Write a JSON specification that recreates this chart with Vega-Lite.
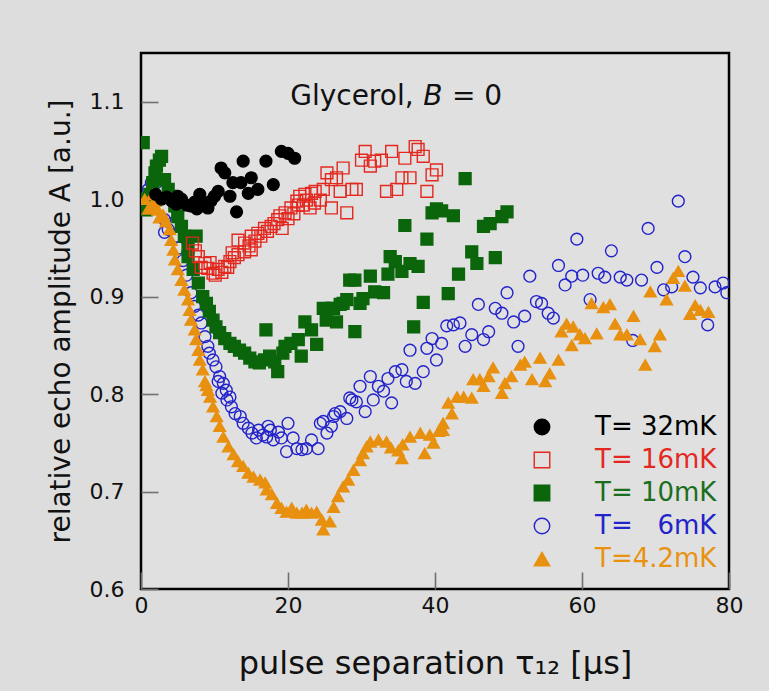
{
  "$schema": "https://vega.github.io/schema/vega-lite/v6.json",
  "width": 588,
  "height": 536,
  "autosize": {"type": "none"},
  "padding": {"left": 141, "top": 53, "right": 40, "bottom": 102},
  "background": "#dddddd",
  "config": {
    "font": "DejaVu Sans",
    "view": {"stroke": "#000000", "strokeWidth": 2.5, "fill": "#e0e0e0"},
    "axis": {"grid": false, "domain": false, "tickSize": -17, "tickColor": "#707070", "tickWidth": 1.6, "labelFont": "DejaVu Sans", "labelFontSize": 22, "labelColor": "#111111", "labelFlush": false, "titleFont": "DejaVu Sans", "titleFontWeight": "normal", "titleColor": "#111111"},
    "legend": {"padding": 0, "title": null, "orient": "none", "legendX": 388, "legendY": 361, "labelFont": "DejaVu Sans", "labelFontSize": 26, "labelOffset": 40, "rowPadding": 7, "symbolStrokeWidth": 1.4, "symbolSize": 240}
  },
  "layer": [
    {
      "data": {"values": [
        {"T":"6","x":0.5,"y":0.999},{"T":"6","x":1.0,"y":1.01},{"T":"6","x":1.4,"y":1.017},{"T":"6","x":1.8,"y":1.02},{"T":"6","x":2.1,"y":1.017},{"T":"6","x":2.5,"y":1.01},{"T":"6","x":2.3,"y":1.0},{"T":"6","x":3.2,"y":0.979},{"T":"6","x":3.2,"y":0.966},{"T":"6","x":3.7,"y":0.969},{"T":"6","x":4.2,"y":0.975},{"T":"6","x":4.7,"y":0.962},{"T":"6","x":5.2,"y":0.95},{"T":"6","x":5.7,"y":0.937},{"T":"6","x":6.2,"y":0.922},{"T":"6","x":6.8,"y":0.904},{"T":"6","x":7.3,"y":0.89},{"T":"6","x":7.8,"y":0.881},{"T":"6","x":8.2,"y":0.873},{"T":"6","x":8.7,"y":0.859},{"T":"6","x":9.1,"y":0.849},{"T":"6","x":9.3,"y":0.842},{"T":"6","x":9.8,"y":0.835},{"T":"6","x":10.2,"y":0.828},{"T":"6","x":10.5,"y":0.813},{"T":"6","x":10.7,"y":0.818},{"T":"6","x":11.0,"y":0.801},{"T":"6","x":11.2,"y":0.811},{"T":"6","x":11.6,"y":0.804},{"T":"6","x":11.7,"y":0.794},{"T":"6","x":12.1,"y":0.797},{"T":"6","x":12.3,"y":0.787},{"T":"6","x":12.8,"y":0.78},{"T":"6","x":13.5,"y":0.777},{"T":"6","x":13.9,"y":0.77},{"T":"6","x":14.6,"y":0.765},{"T":"6","x":15.1,"y":0.76},{"T":"6","x":15.7,"y":0.755},{"T":"6","x":16.0,"y":0.763},{"T":"6","x":16.6,"y":0.758},{"T":"6","x":17.1,"y":0.756},{"T":"6","x":17.3,"y":0.767},{"T":"6","x":17.6,"y":0.763},{"T":"6","x":18.0,"y":0.753},{"T":"6","x":18.7,"y":0.761},{"T":"6","x":19.1,"y":0.755},{"T":"6","x":19.8,"y":0.741},{"T":"6","x":20.0,"y":0.77},{"T":"6","x":20.7,"y":0.755},{"T":"6","x":21.2,"y":0.744},{"T":"6","x":21.9,"y":0.743},{"T":"6","x":22.5,"y":0.744},{"T":"6","x":23.2,"y":0.753},{"T":"6","x":24.1,"y":0.744},{"T":"6","x":24.4,"y":0.77},{"T":"6","x":24.8,"y":0.772},{"T":"6","x":25.3,"y":0.76},{"T":"6","x":25.9,"y":0.767},{"T":"6","x":26.2,"y":0.777},{"T":"6","x":26.4,"y":0.78},{"T":"6","x":27.1,"y":0.782},{"T":"6","x":28.0,"y":0.775},{"T":"6","x":28.4,"y":0.796},{"T":"6","x":28.7,"y":0.794},{"T":"6","x":29.3,"y":0.792},{"T":"6","x":29.8,"y":0.808},{"T":"6","x":30.5,"y":0.782},{"T":"6","x":31.2,"y":0.818},{"T":"6","x":31.6,"y":0.794},{"T":"6","x":32.3,"y":0.808},{"T":"6","x":33.0,"y":0.803},{"T":"6","x":33.6,"y":0.816},{"T":"6","x":34.1,"y":0.791},{"T":"6","x":34.6,"y":0.823},{"T":"6","x":35.5,"y":0.825},{"T":"6","x":36.1,"y":0.813},{"T":"6","x":36.6,"y":0.845},{"T":"6","x":37.3,"y":0.811},{"T":"6","x":38.4,"y":0.823},{"T":"6","x":38.9,"y":0.847},{"T":"6","x":39.6,"y":0.857},{"T":"6","x":40.2,"y":0.835},{"T":"6","x":40.9,"y":0.852},{"T":"6","x":41.6,"y":0.87},{"T":"6","x":42.5,"y":0.871},{"T":"6","x":43.4,"y":0.873},{"T":"6","x":44.1,"y":0.849},{"T":"6","x":45.0,"y":0.861},{"T":"6","x":45.9,"y":0.892},{"T":"6","x":46.6,"y":0.856},{"T":"6","x":47.3,"y":0.864},{"T":"6","x":48.2,"y":0.888},{"T":"6","x":49.1,"y":0.883},{"T":"6","x":49.8,"y":0.904},{"T":"6","x":50.7,"y":0.874},{"T":"6","x":51.3,"y":0.849},{"T":"6","x":52.2,"y":0.88},{"T":"6","x":52.9,"y":0.921},{"T":"6","x":53.8,"y":0.895},{"T":"6","x":54.5,"y":0.893},{"T":"6","x":55.4,"y":0.883},{"T":"6","x":56.1,"y":0.878},{"T":"6","x":56.8,"y":0.932},{"T":"6","x":57.7,"y":0.912},{"T":"6","x":58.6,"y":0.921},{"T":"6","x":59.3,"y":0.959},{"T":"6","x":60.1,"y":0.922},{"T":"6","x":61.1,"y":0.897},{"T":"6","x":62.2,"y":0.924},{"T":"6","x":63.1,"y":0.92},{"T":"6","x":64.0,"y":0.947},{"T":"6","x":65.2,"y":0.92},{"T":"6","x":66.1,"y":0.917},{"T":"6","x":66.9,"y":0.855},{"T":"6","x":68.1,"y":0.917},{"T":"6","x":69.0,"y":0.97},{"T":"6","x":70.2,"y":0.93},{"T":"6","x":71.1,"y":0.907},{"T":"6","x":72.2,"y":0.91},{"T":"6","x":73.1,"y":0.998},{"T":"6","x":74.0,"y":0.941},{"T":"6","x":75.1,"y":0.92},{"T":"6","x":76.1,"y":0.909},{"T":"6","x":77.1,"y":0.871},{"T":"6","x":78.1,"y":0.91},{"T":"6","x":79.2,"y":0.914},{"T":"6","x":79.7,"y":0.904},
        {"T":"10","x":0.3,"y":1.058},{"T":"10","x":0.3,"y":1.0},{"T":"10","x":0.7,"y":0.989},{"T":"10","x":1.2,"y":1.005},{"T":"10","x":1.6,"y":1.017},{"T":"10","x":1.9,"y":1.027},{"T":"10","x":2.1,"y":1.034},{"T":"10","x":2.5,"y":1.04},{"T":"10","x":2.8,"y":1.044},{"T":"10","x":3.2,"y":1.02},{"T":"10","x":3.7,"y":1.01},{"T":"10","x":4.1,"y":1.003},{"T":"10","x":4.6,"y":0.993},{"T":"10","x":5.0,"y":0.982},{"T":"10","x":5.5,"y":0.972},{"T":"10","x":5.9,"y":0.962},{"T":"10","x":6.4,"y":0.951},{"T":"10","x":6.4,"y":0.941},{"T":"10","x":7.1,"y":0.928},{"T":"10","x":7.5,"y":0.962},{"T":"10","x":7.8,"y":0.914},{"T":"10","x":8.4,"y":0.9},{"T":"10","x":8.9,"y":0.893},{"T":"10","x":9.3,"y":0.885},{"T":"10","x":9.8,"y":0.876},{"T":"10","x":10.2,"y":0.869},{"T":"10","x":10.7,"y":0.863},{"T":"10","x":11.4,"y":0.857},{"T":"10","x":12.1,"y":0.852},{"T":"10","x":12.7,"y":0.849},{"T":"10","x":13.4,"y":0.845},{"T":"10","x":14.1,"y":0.842},{"T":"10","x":14.8,"y":0.837},{"T":"10","x":15.5,"y":0.833},{"T":"10","x":16.1,"y":0.832},{"T":"10","x":16.8,"y":0.835},{"T":"10","x":17.0,"y":0.866},{"T":"10","x":17.5,"y":0.839},{"T":"10","x":18.2,"y":0.833},{"T":"10","x":18.6,"y":0.823},{"T":"10","x":19.3,"y":0.842},{"T":"10","x":19.6,"y":0.849},{"T":"10","x":20.4,"y":0.852},{"T":"10","x":21.4,"y":0.856},{"T":"10","x":21.8,"y":0.839},{"T":"10","x":22.3,"y":0.874},{"T":"10","x":23.2,"y":0.866},{"T":"10","x":23.9,"y":0.851},{"T":"10","x":24.8,"y":0.888},{"T":"10","x":25.2,"y":0.876},{"T":"10","x":25.9,"y":0.888},{"T":"10","x":26.2,"y":0.888},{"T":"10","x":26.6,"y":0.874},{"T":"10","x":27.1,"y":0.892},{"T":"10","x":27.5,"y":0.893},{"T":"10","x":28.0,"y":0.897},{"T":"10","x":28.4,"y":0.917},{"T":"10","x":29.1,"y":0.917},{"T":"10","x":29.1,"y":0.864},{"T":"10","x":29.8,"y":0.893},{"T":"10","x":30.2,"y":0.898},{"T":"10","x":31.2,"y":0.921},{"T":"10","x":31.8,"y":0.905},{"T":"10","x":33.0,"y":0.904},{"T":"10","x":33.6,"y":0.923},{"T":"10","x":33.9,"y":0.941},{"T":"10","x":34.6,"y":0.936},{"T":"10","x":35.5,"y":0.926},{"T":"10","x":35.9,"y":0.973},{"T":"10","x":36.6,"y":0.934},{"T":"10","x":37.1,"y":0.869},{"T":"10","x":37.7,"y":0.931},{"T":"10","x":38.4,"y":0.894},{"T":"10","x":38.9,"y":0.959},{"T":"10","x":39.6,"y":0.986},{"T":"10","x":40.2,"y":0.99},{"T":"10","x":40.9,"y":0.988},{"T":"10","x":41.8,"y":0.903},{"T":"10","x":42.5,"y":0.983},{"T":"10","x":43.2,"y":0.923},{"T":"10","x":44.1,"y":1.021},{"T":"10","x":45.0,"y":0.946},{"T":"10","x":45.7,"y":0.934},{"T":"10","x":46.6,"y":0.972},{"T":"10","x":47.5,"y":0.975},{"T":"10","x":48.2,"y":0.94},{"T":"10","x":49.1,"y":0.982},{"T":"10","x":49.8,"y":0.987},
        {"T":"4.2","x":0.5,"y":1.0},{"T":"4.2","x":1.0,"y":0.99},{"T":"4.2","x":1.4,"y":0.993},{"T":"4.2","x":1.6,"y":1.005},{"T":"4.2","x":1.9,"y":0.998},{"T":"4.2","x":2.3,"y":0.989},{"T":"4.2","x":2.5,"y":0.981},{"T":"4.2","x":3.0,"y":0.984},{"T":"4.2","x":3.4,"y":0.977},{"T":"4.2","x":3.9,"y":0.969},{"T":"4.2","x":4.1,"y":0.958},{"T":"4.2","x":4.4,"y":0.948},{"T":"4.2","x":4.6,"y":0.938},{"T":"4.2","x":5.0,"y":0.928},{"T":"4.2","x":5.5,"y":0.917},{"T":"4.2","x":5.9,"y":0.907},{"T":"4.2","x":6.4,"y":0.897},{"T":"4.2","x":6.6,"y":0.886},{"T":"4.2","x":6.8,"y":0.876},{"T":"4.2","x":7.3,"y":0.866},{"T":"4.2","x":7.5,"y":0.856},{"T":"4.2","x":7.8,"y":0.845},{"T":"4.2","x":8.0,"y":0.835},{"T":"4.2","x":8.4,"y":0.825},{"T":"4.2","x":8.7,"y":0.813},{"T":"4.2","x":8.9,"y":0.809},{"T":"4.2","x":9.1,"y":0.804},{"T":"4.2","x":9.4,"y":0.797},{"T":"4.2","x":9.8,"y":0.787},{"T":"4.2","x":10.3,"y":0.777},{"T":"4.2","x":10.7,"y":0.767},{"T":"4.2","x":11.2,"y":0.756},{"T":"4.2","x":11.9,"y":0.746},{"T":"4.2","x":12.6,"y":0.738},{"T":"4.2","x":13.2,"y":0.731},{"T":"4.2","x":13.9,"y":0.726},{"T":"4.2","x":14.6,"y":0.719},{"T":"4.2","x":15.3,"y":0.715},{"T":"4.2","x":16.2,"y":0.712},{"T":"4.2","x":16.9,"y":0.709},{"T":"4.2","x":17.1,"y":0.702},{"T":"4.2","x":17.8,"y":0.697},{"T":"4.2","x":18.5,"y":0.688},{"T":"4.2","x":19.1,"y":0.683},{"T":"4.2","x":19.8,"y":0.679},{"T":"4.2","x":20.5,"y":0.683},{"T":"4.2","x":21.2,"y":0.678},{"T":"4.2","x":21.9,"y":0.678},{"T":"4.2","x":22.5,"y":0.681},{"T":"4.2","x":23.2,"y":0.678},{"T":"4.2","x":23.9,"y":0.679},{"T":"4.2","x":24.6,"y":0.671},{"T":"4.2","x":24.8,"y":0.661},{"T":"4.2","x":25.7,"y":0.669},{"T":"4.2","x":26.2,"y":0.684},{"T":"4.2","x":26.8,"y":0.695},{"T":"4.2","x":27.5,"y":0.705},{"T":"4.2","x":28.2,"y":0.712},{"T":"4.2","x":28.9,"y":0.722},{"T":"4.2","x":29.8,"y":0.732},{"T":"4.2","x":30.2,"y":0.739},{"T":"4.2","x":30.7,"y":0.746},{"T":"4.2","x":31.2,"y":0.751},{"T":"4.2","x":32.3,"y":0.753},{"T":"4.2","x":33.4,"y":0.751},{"T":"4.2","x":34.0,"y":0.745},{"T":"4.2","x":35.0,"y":0.742},{"T":"4.2","x":35.5,"y":0.734},{"T":"4.2","x":35.6,"y":0.748},{"T":"4.2","x":36.6,"y":0.756},{"T":"4.2","x":38.0,"y":0.76},{"T":"4.2","x":38.6,"y":0.739},{"T":"4.2","x":39.3,"y":0.758},{"T":"4.2","x":39.8,"y":0.75},{"T":"4.2","x":40.5,"y":0.762},{"T":"4.2","x":41.1,"y":0.77},{"T":"4.2","x":41.1,"y":0.763},{"T":"4.2","x":41.8,"y":0.791},{"T":"4.2","x":42.3,"y":0.78},{"T":"4.2","x":43.0,"y":0.797},{"T":"4.2","x":43.9,"y":0.797},{"T":"4.2","x":45.0,"y":0.796},{"T":"4.2","x":45.2,"y":0.815},{"T":"4.2","x":46.1,"y":0.815},{"T":"4.2","x":46.6,"y":0.808},{"T":"4.2","x":47.3,"y":0.818},{"T":"4.2","x":47.9,"y":0.827},{"T":"4.2","x":49.1,"y":0.801},{"T":"4.2","x":49.5,"y":0.811},{"T":"4.2","x":50.4,"y":0.818},{"T":"4.2","x":51.6,"y":0.83},{"T":"4.2","x":52.2,"y":0.833},{"T":"4.2","x":53.2,"y":0.815},{"T":"4.2","x":54.3,"y":0.837},{"T":"4.2","x":55.0,"y":0.813},{"T":"4.2","x":55.6,"y":0.821},{"T":"4.2","x":56.8,"y":0.835},{"T":"4.2","x":57.2,"y":0.864},{"T":"4.2","x":57.9,"y":0.872},{"T":"4.2","x":58.6,"y":0.85},{"T":"4.2","x":58.8,"y":0.869},{"T":"4.2","x":59.7,"y":0.861},{"T":"4.2","x":60.4,"y":0.857},{"T":"4.2","x":61.3,"y":0.893},{"T":"4.2","x":62.0,"y":0.862},{"T":"4.2","x":62.9,"y":0.889},{"T":"4.2","x":63.8,"y":0.892},{"T":"4.2","x":64.5,"y":0.872},{"T":"4.2","x":65.2,"y":0.861},{"T":"4.2","x":66.1,"y":0.861},{"T":"4.2","x":67.0,"y":0.88},{"T":"4.2","x":67.9,"y":0.856},{"T":"4.2","x":68.6,"y":0.83},{"T":"4.2","x":69.3,"y":0.905},{"T":"4.2","x":69.9,"y":0.849},{"T":"4.2","x":70.6,"y":0.861},{"T":"4.2","x":71.5,"y":0.897},{"T":"4.2","x":72.4,"y":0.919},{"T":"4.2","x":73.1,"y":0.926},{"T":"4.2","x":74.0,"y":0.911},{"T":"4.2","x":74.7,"y":0.882},{"T":"4.2","x":75.4,"y":0.891},{"T":"4.2","x":76.1,"y":0.886},{"T":"4.2","x":77.2,"y":0.884},
        {"T":"16","x":7.0,"y":0.955},{"T":"16","x":7.4,"y":0.947},{"T":"16","x":7.8,"y":0.941},{"T":"16","x":8.2,"y":0.93},{"T":"16","x":8.7,"y":0.934},{"T":"16","x":9.1,"y":0.929},{"T":"16","x":9.4,"y":0.935},{"T":"16","x":9.8,"y":0.924},{"T":"16","x":10.1,"y":0.922},{"T":"16","x":10.5,"y":0.928},{"T":"16","x":11.0,"y":0.925},{"T":"16","x":11.4,"y":0.931},{"T":"16","x":11.8,"y":0.93},{"T":"16","x":12.1,"y":0.936},{"T":"16","x":12.4,"y":0.945},{"T":"16","x":12.7,"y":0.94},{"T":"16","x":13.2,"y":0.943},{"T":"16","x":13.2,"y":0.958},{"T":"16","x":14.1,"y":0.946},{"T":"16","x":14.1,"y":0.955},{"T":"16","x":14.7,"y":0.952},{"T":"16","x":15.0,"y":0.948},{"T":"16","x":15.0,"y":0.962},{"T":"16","x":15.5,"y":0.957},{"T":"16","x":15.9,"y":0.965},{"T":"16","x":16.3,"y":0.962},{"T":"16","x":16.8,"y":0.97},{"T":"16","x":17.2,"y":0.967},{"T":"16","x":17.7,"y":0.972},{"T":"16","x":18.1,"y":0.975},{"T":"16","x":18.6,"y":0.979},{"T":"16","x":18.9,"y":0.983},{"T":"16","x":19.2,"y":0.97},{"T":"16","x":19.6,"y":0.986},{"T":"16","x":20.0,"y":0.98},{"T":"16","x":20.4,"y":0.991},{"T":"16","x":20.8,"y":0.985},{"T":"16","x":21.2,"y":0.998},{"T":"16","x":21.4,"y":0.994},{"T":"16","x":21.6,"y":1.003},{"T":"16","x":22.1,"y":0.994},{"T":"16","x":22.3,"y":1.005},{"T":"16","x":22.5,"y":0.999},{"T":"16","x":23.0,"y":0.991},{"T":"16","x":23.2,"y":1.006},{"T":"16","x":23.6,"y":0.996},{"T":"16","x":23.7,"y":1.008},{"T":"16","x":24.4,"y":0.999},{"T":"16","x":24.8,"y":1.01},{"T":"16","x":25.3,"y":1.027},{"T":"16","x":25.9,"y":1.02},{"T":"16","x":25.9,"y":0.991},{"T":"16","x":26.6,"y":1.022},{"T":"16","x":27.1,"y":1.008},{"T":"16","x":27.5,"y":1.032},{"T":"16","x":28.0,"y":0.986},{"T":"16","x":28.7,"y":1.01},{"T":"16","x":29.3,"y":1.01},{"T":"16","x":30.0,"y":1.04},{"T":"16","x":30.5,"y":1.049},{"T":"16","x":31.2,"y":1.034},{"T":"16","x":31.8,"y":1.039},{"T":"16","x":32.7,"y":1.04},{"T":"16","x":33.4,"y":1.008},{"T":"16","x":34.1,"y":1.049},{"T":"16","x":34.8,"y":1.01},{"T":"16","x":35.5,"y":1.022},{"T":"16","x":35.9,"y":1.042},{"T":"16","x":36.6,"y":1.022},{"T":"16","x":37.3,"y":1.054},{"T":"16","x":37.7,"y":1.051},{"T":"16","x":38.4,"y":1.044},{"T":"16","x":38.9,"y":1.008},{"T":"16","x":39.6,"y":1.025},{"T":"16","x":40.2,"y":1.03},
        {"T":"32","x":2.0,"y":1.005},{"T":"32","x":2.8,"y":1.0},{"T":"32","x":3.5,"y":1.002},{"T":"32","x":4.2,"y":0.998},{"T":"32","x":4.8,"y":0.995},{"T":"32","x":5.0,"y":1.003},{"T":"32","x":5.5,"y":1.0},{"T":"32","x":6.2,"y":0.994},{"T":"32","x":6.8,"y":0.993},{"T":"32","x":7.3,"y":0.997},{"T":"32","x":7.6,"y":0.99},{"T":"32","x":8.0,"y":1.005},{"T":"32","x":8.7,"y":0.996},{"T":"32","x":9.1,"y":0.991},{"T":"32","x":9.5,"y":0.998},{"T":"32","x":10.0,"y":1.003},{"T":"32","x":10.5,"y":1.008},{"T":"32","x":10.9,"y":1.032},{"T":"32","x":11.4,"y":1.027},{"T":"32","x":12.1,"y":1.003},{"T":"32","x":12.5,"y":1.017},{"T":"32","x":13.0,"y":0.987},{"T":"32","x":13.6,"y":1.017},{"T":"32","x":13.9,"y":1.039},{"T":"32","x":14.6,"y":1.006},{"T":"32","x":15.0,"y":1.022},{"T":"32","x":15.9,"y":1.01},{"T":"32","x":17.0,"y":1.039},{"T":"32","x":18.0,"y":1.015},{"T":"32","x":19.1,"y":1.049},{"T":"32","x":20.0,"y":1.047},{"T":"32","x":20.9,"y":1.042}
      ]},
      "mark": {"type": "point", "opacity": 1, "strokeWidth": 1.4, "size": 140, "clip": true},
      "encoding": {
        "x": {"field": "x", "type": "quantitative", "scale": {"domain": [0, 80], "nice": false, "zero": false},
              "axis": {"values": [0, 20, 40, 60, 80], "title": "pulse separation τ₁₂ [µs]", "titleFontSize": 32, "labelPadding": 23, "titlePadding": 32}},
        "y": {"field": "y", "type": "quantitative", "scale": {"domain": [0.6, 1.15], "nice": false, "zero": false},
              "axis": {"values": [0.6, 0.7, 0.8, 0.9, 1.0, 1.1], "format": ".1f", "title": "relative echo amplitude A [a.u.]", "titleFontSize": 28, "labelPadding": 34, "titlePadding": 14}},
        "shape": {"field": "T", "type": "nominal",
                  "scale": {"domain": ["32", "16", "10", "6", "4.2"], "range": ["circle", "square", "square", "circle", "triangle-up"]},
                  "legend": {"labelExpr": "datum.value == '6' ? 'T= \u20076mK' : datum.value == '4.2' ? 'T=4.2mK' : 'T= ' + datum.value + 'mK'",
                             "labelColor": {"expr": "datum.value == '32' ? '#000000' : datum.value == '16' ? '#e3281f' : datum.value == '10' ? '#1b6e1b' : datum.value == '6' ? '#2323cc' : '#e8920f'"}}},
        "stroke": {"field": "T", "type": "nominal",
                   "scale": {"domain": ["32", "16", "10", "6", "4.2"], "range": ["#000000", "#e3281f", "#0b650b", "#2323cc", "#e8900f"]},
                   "legend": {"labelExpr": "datum.value == '6' ? 'T= \u20076mK' : datum.value == '4.2' ? 'T=4.2mK' : 'T= ' + datum.value + 'mK'",
                             "labelColor": {"expr": "datum.value == '32' ? '#000000' : datum.value == '16' ? '#e3281f' : datum.value == '10' ? '#1b6e1b' : datum.value == '6' ? '#2323cc' : '#e8920f'"}}},
        "fill": {"field": "T", "type": "nominal",
                 "scale": {"domain": ["32", "16", "10", "6", "4.2"], "range": ["#000000", "transparent", "#0b650b", "transparent", "#e8900f"]},
                 "legend": {"labelExpr": "datum.value == '6' ? 'T= \u20076mK' : datum.value == '4.2' ? 'T=4.2mK' : 'T= ' + datum.value + 'mK'",
                             "labelColor": {"expr": "datum.value == '32' ? '#000000' : datum.value == '16' ? '#e3281f' : datum.value == '10' ? '#1b6e1b' : datum.value == '6' ? '#2323cc' : '#e8920f'"}}}
      }
    },
    {
      "data": {"values": [{"label": "Glycerol,"}]},
      "mark": {"type": "text", "align": "left", "baseline": "alphabetic", "font": "DejaVu Sans", "fontSize": 28, "color": "#111111"},
      "encoding": {"x": {"datum": 20.3}, "y": {"datum": 1.097}, "text": {"field": "label"}}
    },
    {
      "data": {"values": [{"label": "B"}]},
      "mark": {"type": "text", "align": "left", "baseline": "alphabetic", "font": "DejaVu Sans", "fontSize": 28, "fontStyle": "italic", "color": "#111111"},
      "encoding": {"x": {"datum": 38.4}, "y": {"datum": 1.097}, "text": {"field": "label"}}
    },
    {
      "data": {"values": [{"label": "= 0"}]},
      "mark": {"type": "text", "align": "left", "baseline": "alphabetic", "font": "DejaVu Sans", "fontSize": 28, "color": "#111111"},
      "encoding": {"x": {"datum": 42.3}, "y": {"datum": 1.097}, "text": {"field": "label"}}
    }
  ]
}
